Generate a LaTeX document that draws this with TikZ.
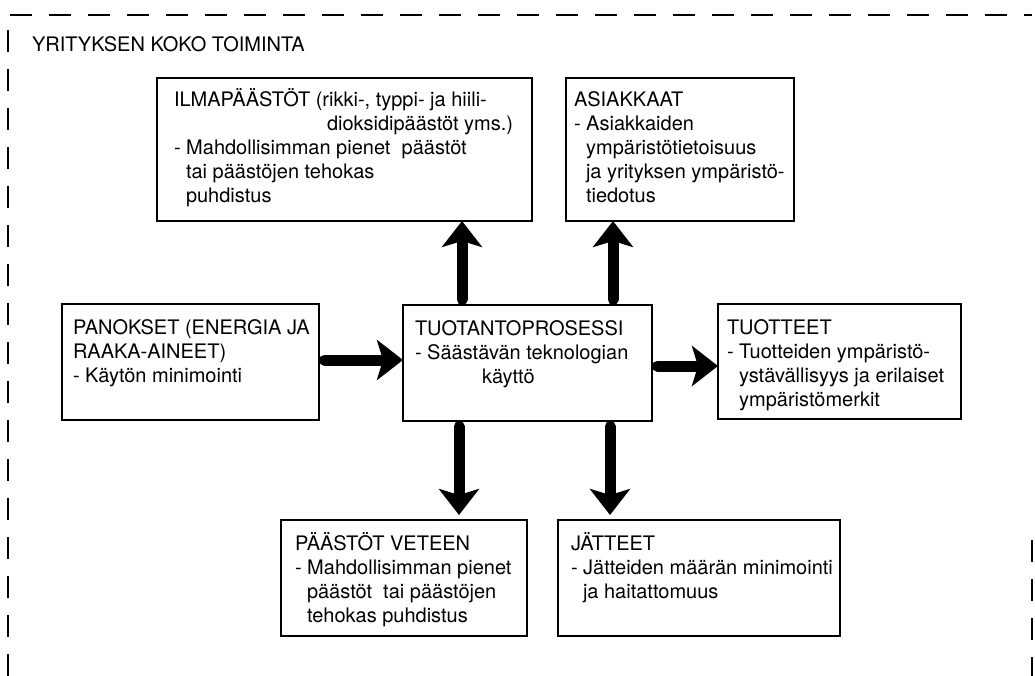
\documentclass[tikz,border=0pt]{standalone}
\usepackage{fontspec}
\setmainfont{TeX Gyre Heros}
\usetikzlibrary{arrows.meta,calc}
\newcommand\myind{\hspace*{12pt}}
\newcommand\mystrut{\rule{0pt}{19pt}}
\begin{document}
\begin{tikzpicture}[x=1pt,y=-1pt,
  box/.style={draw=black,line width=1.3pt,inner sep=0pt,outer sep=0pt,rectangle},
  txt/.style={inner sep=0pt,outer sep=0pt,align=left,anchor=north west,font=\fontsize{20}{24}\selectfont},
  frame/.style={draw=black,line width=1.1pt,dash pattern=on 22pt off 17pt},
  arr/.style={draw=black,line width=11pt,line cap=round,shorten <=5.5pt,
    -{Stealth[length=26pt,width=40pt,inset=6pt]}}]
\useasboundingbox (0,0) rectangle (1035,676);
% outer dashed frame
\draw[frame] (8,676) -- (8,15) -- (1032,15);
\draw[frame] (1032,540) -- (1032,676);
\node[txt,anchor=base west] (title) at (32,52) {YRITYKSEN KOKO TOIMINTA};
% boxes
\node[box,minimum width=375pt,minimum height=143pt] (ilma) at (344.5,149.5) {};
\node[box,minimum width=228pt,minimum height=143pt] (asi) at (680,149.5) {};
\node[box,minimum width=257pt,minimum height=116pt] (pan) at (190.5,362) {};
\node[box,minimum width=249pt,minimum height=116pt] (tuo) at (527.5,363) {};
\node[box,minimum width=243pt,minimum height=115pt] (tuot) at (839.5,361.5) {};
\node[box,minimum width=246pt,minimum height=116pt] (pv) at (404,578) {};
\node[box,minimum width=282pt,minimum height=116pt] (jat) at (699,578) {};
% texts
\node[txt] (ilmat) at ($(ilma.north west)+(17,10)$) {\mystrut ILMAPÄÄSTÖT (rikki-, typpi- ja hiili-\\
\hspace*{153pt}dioksidipäästöt yms.)\\
- Mahdollisimman pienet\ \ päästöt\\
\myind tai päästöjen tehokas\\
\myind puhdistus};
\node[txt] (asit) at ($(asi.north west)+(8,10)$) {\mystrut ASIAKKAAT\\
- Asiakkaiden\\
\myind ympäristötietoisuus\\
\myind ja yrityksen ympäristö-\\
\myind tiedotus};
\node[txt] (pant) at ($(pan.north west)+(11,11)$) {\mystrut PANOKSET (ENERGIA JA\\
RAAKA-AINEET)\\
- Käytön minimointi};
\node[txt] (tuotxt) at ($(tuo.north west)+(12,11)$) {\mystrut TUOTANTOPROSESSI\\
- Säästävän teknologian\\
\hspace*{67pt}käyttö};
\node[txt] (tuott) at ($(tuot.north west)+(9,11)$) {\mystrut TUOTTEET\\
- Tuotteiden ympäristö-\\
\myind ystävällisyys ja erilaiset\\
\myind ympäristömerkit};
\node[txt] (pvt) at ($(pv.north west)+(14,11)$) {\mystrut PÄÄSTÖT VETEEN\\
- Mahdollisimman pienet\\
\myind päästöt\ \ tai päästöjen\\
\myind tehokas puhdistus};
\node[txt] (jatt) at ($(jat.north west)+(13,11)$) {\mystrut JÄTTEET\\
- Jätteiden määrän minimointi\\
\myind ja haitattomuus};
% arrows
\draw[arr] ([yshift=2pt]pan.east) -- ([yshift=2pt]pan.east -| tuo.west);
\draw[arr] ([yshift=-3pt]tuo.east) -- ([yshift=-3pt]tuo.east -| tuot.west);
\draw[arr] ([xshift=59pt]tuo.north west) -- ([xshift=59pt]tuo.north west |- ilma.south);
\draw[arr] ([xshift=210pt]tuo.north west) -- ([xshift=210pt]tuo.north west |- asi.south);
\draw[arr,shorten >=5pt] ([xshift=56pt]tuo.south west) -- ([xshift=56pt]tuo.south west |- pv.north);
\draw[arr,shorten >=5pt] ([xshift=207pt]tuo.south west) -- ([xshift=207pt]tuo.south west |- jat.north);
\end{tikzpicture}
\end{document}
